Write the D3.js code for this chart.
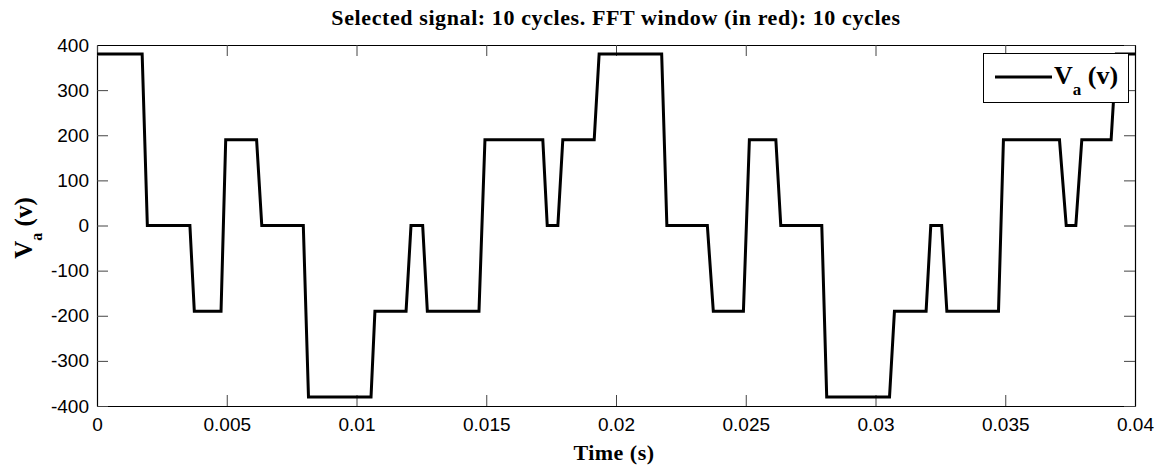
<!DOCTYPE html>
<html>
<head>
<meta charset="utf-8">
<script src="https://cdn.jsdelivr.net/npm/d3@7"></script>
<style>
  body { margin: 0; background: #fff; }
  svg { display: block; }
</style>
</head>
<body>
<div id="chart"></div>
<script>
// waveform corners (time in s, voltage in v)
var timeData = [0, 0.00174, 0.00194, 0.00358, 0.00375, 0.00478, 0.00496, 0.00615, 0.00635, 0.00795,
    0.00815, 0.01056, 0.01071, 0.01191, 0.0121, 0.01255, 0.01273, 0.01472, 0.01495, 0.01718,
    0.01735, 0.01776, 0.01795, 0.01916, 0.01935, 0.02176, 0.02196, 0.02352, 0.02375, 0.02491,
    0.02514, 0.02616, 0.02635, 0.02793, 0.02812, 0.03054, 0.03073, 0.03195, 0.03213, 0.03255,
    0.03275, 0.03474, 0.03493, 0.03709, 0.03735, 0.03772, 0.03795, 0.03908, 0.03928, 0.04];
var voltData = [380, 380, 0, 0, -190, -190, 190, 190, 0, 0,
    -380, -380, -190, -190, 0, 0, -190, -190, 190, 190,
    0, 0, 190, 190, 380, 380, 0, 0, -190, -190,
    190, 190, 0, 0, -380, -380, -190, -190, 0, 0,
    -190, -190, 190, 190, 0, 0, 190, 190, 380, 380];

var xTicks = [0, 0.005, 0.01, 0.015, 0.02, 0.025, 0.03, 0.035, 0.04];
var xTickLabels = ["0", "0.005", "0.01", "0.015", "0.02", "0.025", "0.03", "0.035", "0.04"];
var yTicks = [-400, -300, -200, -100, 0, 100, 200, 300, 400];

var titleText = "Selected signal: 10 cycles. FFT window (in red): 10 cycles";

var width = 1158,
    height = 470;
var margin = { top: 45, right: 23, bottom: 64, left: 97 };
var plotW = width - margin.left - margin.right,
    plotH = height - margin.top - margin.bottom;
var tickLen = 11;
var serif = "'Liberation Serif', 'Times New Roman', serif";
var sans = "'Liberation Sans', Arial, sans-serif";

var svg = d3.select("#chart").append("svg")
    .attr("width", width)
    .attr("height", height);

var x = d3.scaleLinear().domain([0, 0.04]).range([0, plotW]);
var y = d3.scaleLinear().domain([-400, 400]).range([plotH, 0]);

var g = svg.append("g")
    .attr("transform", "translate(" + margin.left + "," + margin.top + ")");

// clip the signal to the axes box
svg.append("defs").append("clipPath")
    .attr("id", "plot-clip")
    .append("rect")
    .attr("width", plotW)
    .attr("height", plotH);

// bottom axis with inward ticks
var xAxis = g.append("g")
    .attr("transform", "translate(0," + plotH + ")")
    .call(d3.axisBottom(x).tickValues(xTicks)
        .tickFormat(function(d, i) { return xTickLabels[i]; })
        .tickSizeInner(-tickLen).tickSizeOuter(0).tickPadding(12));

// left axis with inward ticks (plain hyphen like matlab)
var yAxis = g.append("g")
    .call(d3.axisLeft(y).tickValues(yTicks)
        .tickFormat(function(d) { return String(d); })
        .tickSizeInner(-tickLen).tickSizeOuter(0).tickPadding(8));

// top and right: ticks only
var xTop = g.append("g")
    .call(d3.axisTop(x).tickValues(xTicks).tickFormat("")
        .tickSizeInner(-tickLen).tickSizeOuter(0));
var yRight = g.append("g")
    .attr("transform", "translate(" + plotW + ",0)")
    .call(d3.axisRight(y).tickValues(yTicks).tickFormat("")
        .tickSizeInner(-tickLen).tickSizeOuter(0));

[xAxis, yAxis, xTop, yRight].forEach(function(a) {
    a.select(".domain").attr("stroke", "#000").attr("stroke-width", 1.2);
    a.selectAll(".tick line").attr("stroke", "#444").attr("stroke-width", 1);
    a.selectAll(".tick text")
        .attr("fill", "#000")
        .style("font-family", sans)
        .style("font-size", "19px");
});

// the waveform
var line = d3.line()
    .x(function(d) { return x(d[0]); })
    .y(function(d) { return y(d[1]); });

var points = timeData.map(function(t, i) { return [t, voltData[i]]; });

g.append("path")
    .datum(points)
    .attr("clip-path", "url(#plot-clip)")
    .attr("fill", "none")
    .attr("stroke", "#000")
    .attr("stroke-width", 3)
    .attr("stroke-linejoin", "miter")
    .attr("d", line);

// title
svg.append("text")
    .attr("x", margin.left + plotW / 2)
    .attr("y", 25)
    .attr("text-anchor", "middle")
    .style("font-family", serif)
    .style("font-weight", "bold")
    .style("font-size", "22px")
    .style("letter-spacing", "0.6px")
    .text(titleText);

// x label
svg.append("text")
    .attr("x", margin.left + plotW / 2 - 2)
    .attr("y", 460)
    .attr("text-anchor", "middle")
    .style("font-family", serif)
    .style("font-weight", "bold")
    .style("font-size", "22px")
    .style("letter-spacing", "0.5px")
    .text("Time (s)");

// y label, rotated, with subscript
var yLab = svg.append("text")
    .attr("transform", "translate(32,228) rotate(-90)")
    .attr("text-anchor", "middle")
    .style("font-family", serif)
    .style("font-weight", "bold")
    .style("font-size", "25px");
yLab.append("tspan").text("V");
yLab.append("tspan").attr("dy", 10).style("font-size", "16px").text("a");
yLab.append("tspan").attr("dy", -10).text(" (v)");

// legend
var legend = svg.append("g");
legend.append("rect")
    .attr("x", 983.5)
    .attr("y", 53.5)
    .attr("width", 145)
    .attr("height", 49)
    .attr("fill", "#fff")
    .attr("stroke", "#000")
    .attr("stroke-width", 1);
legend.append("line")
    .attr("x1", 995)
    .attr("x2", 1052)
    .attr("y1", 77)
    .attr("y2", 77)
    .attr("stroke", "#000")
    .attr("stroke-width", 3);
var legText = legend.append("text")
    .attr("x", 1054)
    .attr("y", 84)
    .style("font-family", serif)
    .style("font-weight", "bold")
    .style("font-size", "26px");
legText.append("tspan").text("V");
legText.append("tspan").attr("dy", 11).style("font-size", "17px").text("a");
legText.append("tspan").attr("dy", -11).text(" (v)");
</script>
</body>
</html>
